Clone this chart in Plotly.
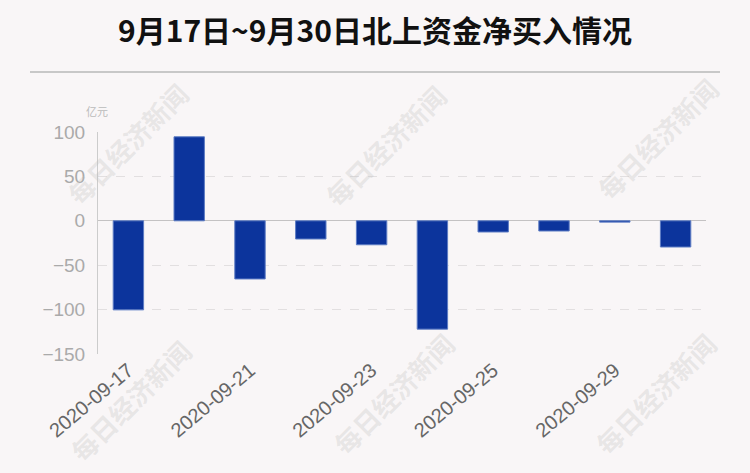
import plotly.graph_objects as go

dates = ["2020-09-17", "2020-09-18", "2020-09-21", "2020-09-22", "2020-09-23",
         "2020-09-24", "2020-09-25", "2020-09-28", "2020-09-29", "2020-09-30"]
net_buy = [-100.3, 94.6, -65.5, -20.5, -27.0, -122.0, -12.6, -11.5, -1.5, -29.5]
shown_ticks = ["2020-09-17", "2020-09-21", "2020-09-23", "2020-09-25", "2020-09-29"]
y_ticks = [100, 50, 0, -50, -100, -150]

BG = "#f9f6f7"
W, H = 750, 473
L, R, T, B = 98, 44, 132, 119
PW, PH = W - L - R, H - T - B

def px(x):
    return (x - L) / PW

def py(y):
    return (H - B - y) / PH

fig = go.Figure()
fig.add_trace(go.Bar(
    x=dates, y=net_buy,
    marker=dict(color="#0c349c", line=dict(color="#5d7cc4", width=1)),
    width=0.5,
))

annotations = [
    dict(text="<b>9月17日~9月30日北上资金净买入情况</b>", x=px(375), y=py(29),
         xref="paper", yref="paper", xanchor="center", yanchor="middle",
         showarrow=False, font=dict(size=30, color="#111111",
                                    family="Noto Sans CJK SC, sans-serif")),
    dict(text="亿元", x=px(97), y=py(111), xref="paper", yref="paper",
         xanchor="center", yanchor="middle", showarrow=False,
         font=dict(size=11, color="#bbbbbb", family="Noto Sans CJK SC, sans-serif")),
]
for (cx, cy) in [(127, 143), (385, 145), (657, 138), (130, 400), (393, 393), (655, 393)]:
    annotations.append(dict(
        text="<b>每日经济新闻</b>", x=px(cx), y=py(cy), xref="paper", yref="paper",
        xanchor="center", yanchor="middle", showarrow=False, textangle=-45,
        font=dict(size=26, color="rgba(190,190,190,0.3)",
                  family="Noto Sans CJK SC, sans-serif")))

fig.update_layout(
    width=W, height=H,
    margin=dict(l=L, r=R, t=T, b=B),
    paper_bgcolor=BG, plot_bgcolor=BG,
    showlegend=False,
    annotations=annotations,
    shapes=[dict(type="line", xref="paper", yref="paper",
                 x0=px(30), x1=px(720), y0=py(72), y1=py(72),
                 line=dict(color="#c8c8c8", width=2))],
    xaxis=dict(
        type="category", tickmode="array", tickvals=shown_ticks, ticktext=shown_ticks,
        tickangle=-40, showgrid=False, showline=False, ticks="",
        tickfont=dict(size=20, color="#666666", family="Liberation Sans, Arial, sans-serif"),
    ),
    yaxis=dict(
        range=[-150, 100], tickmode="array", tickvals=y_ticks,
        showgrid=True, gridcolor="#e2dfe0", griddash="dash", gridwidth=1,
        zeroline=True, zerolinecolor="#c4c2c3", zerolinewidth=1,
        showline=True, linecolor="#cccccc", linewidth=1,
        ticks="", ticklabelstandoff=8,
        tickfont=dict(size=19, color="#aaaaaa", family="Liberation Sans, Arial, sans-serif"),
    ),
    bargap=0.5,
)

fig.write_html("out.html", config={"displayModeBar": False},
               post_script="document.body.style.margin='0';document.body.style.overflow='hidden';")
